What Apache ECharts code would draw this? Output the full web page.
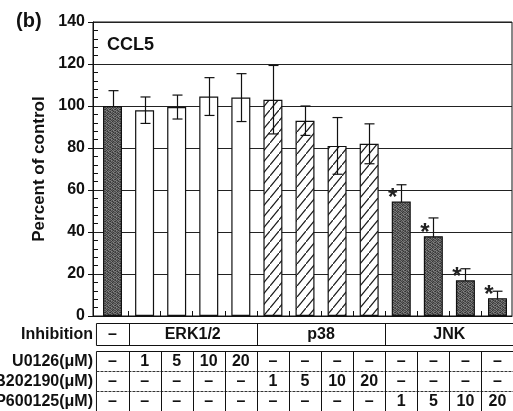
<!DOCTYPE html>
<html>
<head>
<meta charset="utf-8">
<script src="https://cdn.jsdelivr.net/npm/echarts@6/dist/echarts.min.js"></script>
<style>
  html, body { margin: 0; padding: 0; background: #fff; }
  #chart { width: 513px; height: 411px; }
</style>
</head>
<body>
<div id="chart"></div>
<script>
// CCL5 release, percent of control, per inhibitor condition
const conditions = ['Control', 'U0126 1', 'U0126 5', 'U0126 10', 'U0126 20',
  'SB202190 1', 'SB202190 5', 'SB202190 10', 'SB202190 20',
  'SP600125 1', 'SP600125 5', 'SP600125 10', 'SP600125 20'];
const percentOfControl = [100, 98, 99.5, 104.5, 104, 103, 93, 81, 82, 54.5, 38, 17, 8.5];
const errorSD = [7.3, 6.3, 5.7, 9, 11.4, 16.3, 7, 13.5, 9.5, 8, 8.7, 5.5, 3.3];
const fillKind = ['solid', 'open', 'open', 'open', 'open', 'hatch', 'hatch', 'hatch', 'hatch',
  'solid', 'solid', 'solid', 'solid'];
const significant = [false, false, false, false, false, false, false, false, false, true, true, true, true];

// y axis
const yMin = 0, yMax = 140, yStep = 20;

// table under the plot
const inhibitionLabels = ['–', 'ERK1/2', 'p38', 'JNK'];
const inhibitionSpans = [[0, 0], [1, 4], [5, 8], [9, 12]];
const doseRowLabels = ['U0126(μM)', 'SB202190(μM)', 'SP600125(μM)'];
const u0126Doses = ['–', '1', '5', '10', '20', '–', '–', '–', '–', '–', '–', '–', '–'];
const sb202190Doses = ['–', '–', '–', '–', '–', '1', '5', '10', '20', '–', '–', '–', '–'];
const sp600125Doses = ['–', '–', '–', '–', '–', '–', '–', '–', '–', '1', '5', '10', '20'];

const FONT = '"Liberation Sans", Arial, Helvetica, sans-serif';
const INK = '#111';

// fill textures
function stipple() {
  const shades = [
    [0x48, 0x78, 0x55, 0x8c, 0x5e],
    [0x82, 0x50, 0x6e, 0x44, 0x7a],
    [0x5a, 0x90, 0x3e, 0x74, 0x58],
    [0x70, 0x4a, 0x84, 0x60, 0x88],
    [0x3c, 0x7e, 0x5c, 0x94, 0x4e],
    [0x86, 0x62, 0x46, 0x6a, 0x80],
    [0x52, 0x8e, 0x76, 0x42, 0x66]
  ];
  const c = document.createElement('canvas');
  c.width = 5; c.height = shades.length;
  const g = c.getContext('2d');
  shades.forEach((row, y) => row.forEach((v, x) => {
    const s = v - 12;
    g.fillStyle = 'rgb(' + s + ',' + s + ',' + s + ')';
    g.fillRect(x, y, 1, 1);
  }));
  return c;
}
function hatch() {
  const c = document.createElement('canvas');
  c.width = 9; c.height = 11;
  const g = c.getContext('2d');
  g.fillStyle = '#fff'; g.fillRect(0, 0, 9, 11);
  g.strokeStyle = '#1a1a1a'; g.lineWidth = 1.2;
  g.beginPath(); g.moveTo(-0.9, 12.1); g.lineTo(9.9, -1.1); g.stroke();
  return c;
}
const fills = {
  solid: { image: stipple(), repeat: 'repeat' },
  open: '#ffffff',
  hatch: { image: hatch(), repeat: 'repeat' }
};

const chart = echarts.init(document.getElementById('chart'), null, { renderer: 'canvas' });

const idx = conditions.map((_, i) => i);
const barData = idx.map(i => ({ value: [i, percentOfControl[i]], itemStyle: { color: fills[fillKind[i]] } }));
const errOpen = idx.filter(i => fillKind[i] !== 'solid')
  .map(i => [i, percentOfControl[i] - errorSD[i], percentOfControl[i] + errorSD[i]]);
const errSolid = idx.filter(i => fillKind[i] === 'solid')
  .map(i => [i, percentOfControl[i] - errorSD[i], percentOfControl[i] + errorSD[i]]);
const starData = idx.filter(i => significant[i]).map(i => [i, percentOfControl[i]]);

function renderError(params, api) {
  const x = api.value(0);
  const top = api.coord([x, api.value(2)]);
  const bot = api.coord([x, api.value(1)]);
  const cx = Math.round(top[0]) + 0.5;
  const half = 5;
  const st = { stroke: INK, lineWidth: 1.2 };
  return {
    type: 'group',
    children: [
      { type: 'line', shape: { x1: cx, y1: top[1], x2: cx, y2: bot[1] }, style: st },
      { type: 'line', shape: { x1: cx - half, y1: top[1], x2: cx + half, y2: top[1] }, style: st },
      { type: 'line', shape: { x1: cx - half, y1: bot[1], x2: cx + half, y2: bot[1] }, style: st }
    ]
  };
}
function renderStar(params, api) {
  const p = api.coord([api.value(0), api.value(1)]);
  return {
    type: 'text',
    x: p[0] - 8.5,
    y: p[1] - 3,
    style: { text: '*', font: 'bold 24px ' + FONT, fill: '#222', align: 'center', verticalAlign: 'middle' }
  };
}

const tickPositions = idx.slice(0, -1).map(i => i + 0.5);
const titleEls = [
  { type: 'text', left: 16, top: 11, style: { text: '(b)', font: 'bold 20px ' + FONT, fill: INK } },
  { type: 'text', left: 107, top: 36, style: { text: 'CCL5', font: 'bold 18px ' + FONT, fill: INK } }
];

chart.setOption({
  animation: false,
  backgroundColor: '#fff',
  grid: { left: 93, right: 1, top: 22, bottom: 95, show: true, borderColor: INK, borderWidth: 1, backgroundColor: 'transparent' },
  xAxis: {
    type: 'value', min: -0.608, max: 12.452,
    axisLine: { show: true, onZero: false, lineStyle: { color: INK, width: 1 } },
    axisTick: { show: true, inside: true, length: 5, customValues: tickPositions, lineStyle: { color: INK } },
    axisLabel: { show: false },
    splitLine: { show: false }
  },
  yAxis: [{
    type: 'value', min: yMin, max: yMax, interval: yStep,
    name: 'Percent of control', nameLocation: 'middle', nameGap: 43,
    nameTextStyle: { fontFamily: FONT, fontWeight: 'bold', fontSize: 17, color: INK },
    axisLine: { show: true, onZero: false, lineStyle: { color: INK, width: 1 } },
    axisTick: { show: true, inside: false, length: 5, lineStyle: { color: INK } },
    axisLabel: { fontFamily: FONT, fontWeight: 'bold', fontSize: 16, color: INK, margin: 8 },
    splitLine: { show: true, lineStyle: { color: '#222', width: 1 } }
  }, {
    type: 'value', min: yMin, max: yMax, interval: yStep, position: 'left',
    axisLine: { show: false, onZero: false },
    axisTick: { show: false, inside: true },
    minorTick: { show: true, splitNumber: 5, length: 5, lineStyle: { color: INK, width: 1 } },
    axisLabel: { show: false },
    splitLine: { show: false }
  }],
  series: [
    {
      type: 'custom', name: 'error-solid', renderItem: renderError, data: errSolid,
      z: 1, clip: false, encode: { x: 0, y: [1, 2] }
    },
    {
      type: 'bar', name: 'CCL5', data: barData, barWidth: 19, z: 2,
      itemStyle: { borderColor: INK, borderWidth: 1.2 }
    },
    {
      type: 'custom', name: 'error-open', renderItem: renderError, data: errOpen,
      z: 3, clip: false, encode: { x: 0, y: [1, 2] }
    },
    {
      type: 'custom', name: 'significance', renderItem: renderStar, data: starData,
      z: 4, clip: false, encode: { x: 0, y: 1 }
    }
  ],
  graphic: titleEls
});

// condition table under the plot, placed on the same x scale as the bars
function xPix(v) { return chart.convertToPixel({ xAxisIndex: 0 }, v); }
const els = [];
const lineSt = { stroke: INK, lineWidth: 1 };
const cellFont = 'bold 16px ' + FONT;
const labelX = 93;

// inhibition row
const inhTop = 323.5, inhBot = 345.5;
const inhMid = (inhTop + inhBot) / 2;
els.push({ type: 'text', x: labelX, y: inhMid + 0.5, style: { text: 'Inhibition', font: cellFont, fill: INK, align: 'right', verticalAlign: 'middle' } });
const left = xPix(-0.5), right = xPix(conditions.length - 0.5);
els.push({ type: 'rect', shape: { x: left, y: inhTop, width: right - left, height: inhBot - inhTop }, style: { fill: 'none', stroke: INK, lineWidth: 1 } });
inhibitionSpans.forEach((sp, k) => {
  const a = xPix(sp[0] - 0.5), b = xPix(sp[1] + 0.5);
  if (k > 0) els.push({ type: 'line', shape: { x1: Math.round(a) + 0.5, y1: inhTop, x2: Math.round(a) + 0.5, y2: inhBot }, style: lineSt });
  els.push({ type: 'text', x: (a + b) / 2, y: inhMid + 0.5, style: { text: inhibitionLabels[k], font: cellFont, fill: INK, align: 'center', verticalAlign: 'middle' } });
});

// dose rows
const doseRows = [u0126Doses, sb202190Doses, sp600125Doses];
const rowTop = 351.5, rowH = 20;
const tableBot = rowTop + rowH * doseRows.length;
els.push({ type: 'rect', shape: { x: left, y: rowTop, width: right - left, height: tableBot - rowTop }, style: { fill: 'none', stroke: INK, lineWidth: 1 } });
for (let r = 1; r < doseRows.length; r++) {
  const y = rowTop + rowH * r;
  els.push({ type: 'line', shape: { x1: left, y1: y, x2: right, y2: y }, style: { stroke: '#333', lineWidth: 1, lineDash: [3, 1] } });
}
for (let i = 1; i < conditions.length; i++) {
  const x = Math.round(xPix(i - 0.5)) + 0.5;
  els.push({ type: 'line', shape: { x1: x, y1: rowTop, x2: x, y2: tableBot }, style: lineSt });
}
doseRows.forEach((row, r) => {
  const yc = rowTop + rowH * r + rowH / 2 + 0.5;
  els.push({ type: 'text', x: labelX, y: yc, style: { text: doseRowLabels[r], font: cellFont, fill: INK, align: 'right', verticalAlign: 'middle' } });
  row.forEach((t, i) => {
    els.push({ type: 'text', x: xPix(i), y: yc, style: { text: t, font: cellFont, fill: INK, align: 'center', verticalAlign: 'middle' } });
  });
});

chart.setOption({
  graphic: titleEls.concat([{ type: 'group', children: els }])
}, { replaceMerge: ['graphic'] });
</script>
</body>
</html>
